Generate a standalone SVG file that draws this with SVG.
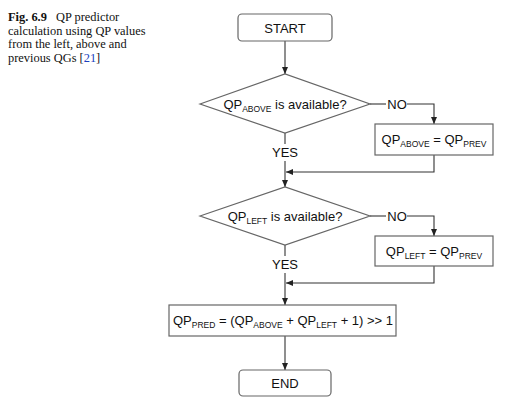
<svg xmlns="http://www.w3.org/2000/svg" width="505" height="401" viewBox="0 0 505 401">
<defs>
<marker id="ah" markerWidth="8" markerHeight="8" refX="7" refY="4" orient="auto" markerUnits="userSpaceOnUse">
<path d="M0,1 L7,4 L0,7 Z" fill="#222"/>
</marker>
</defs>
<style>
.cap{font-family:"Liberation Serif",serif;font-size:12.4px;fill:#111}
.t{font-family:"Liberation Sans",Arial,sans-serif;font-size:13px;fill:#111}
.s{font-size:8.5px}
.box{fill:#fff;stroke:#666;stroke-width:1.2}
.ln{fill:none;stroke:#333;stroke-width:1.1}
</style>
<rect width="505" height="401" fill="#fff"/>
<g id="caption">
<text class="cap" x="8" y="21"><tspan font-weight="bold">Fig. 6.9</tspan><tspan x="56">QP predictor</tspan></text>
<text class="cap" x="8" y="34.5">calculation using QP values</text>
<text class="cap" x="8" y="48">from the left, above and</text>
<text class="cap" x="8" y="61.5">previous QGs [<tspan fill="#1a3fbf">21</tspan>]</text>
</g>
<g id="connectors">
<line class="ln" x1="285" y1="41" x2="285" y2="74" marker-end="url(#ah)"/>
<line class="ln" x1="370" y1="104" x2="386" y2="104"/>
<polyline class="ln" points="407,104 434,104 434,124" marker-end="url(#ah)"/>
<line class="ln" x1="285" y1="133" x2="285" y2="144"/>
<line class="ln" x1="285" y1="161" x2="285" y2="187" marker-end="url(#ah)"/>
<polyline class="ln" points="434,155 434,172 286,172" marker-end="url(#ah)"/>
<line class="ln" x1="370" y1="216" x2="386" y2="216"/>
<polyline class="ln" points="407,216 434,216 434,236" marker-end="url(#ah)"/>
<line class="ln" x1="285" y1="245" x2="285" y2="256"/>
<line class="ln" x1="285" y1="273" x2="285" y2="305" marker-end="url(#ah)"/>
<polyline class="ln" points="434,266 434,283 286,283" marker-end="url(#ah)"/>
<line class="ln" x1="285" y1="336" x2="285" y2="370" marker-end="url(#ah)"/>
<text class="t" x="397" y="108.5" text-anchor="middle">NO</text>
<text class="t" x="285" y="157" text-anchor="middle">YES</text>
<text class="t" x="397" y="220.5" text-anchor="middle">NO</text>
<text class="t" x="285" y="269" text-anchor="middle">YES</text>
</g>
<g id="start">
<rect class="box" x="238" y="14" width="94" height="27" rx="4"/>
<text class="t" x="285" y="32.5" text-anchor="middle" font-size="14">START</text>
</g>
<g id="dec1">
<polygon class="box" points="200,104 285,74 370,104 285,133"/>
<text class="t" x="285" y="108.5" text-anchor="middle">QP<tspan class="s" dy="3">ABOVE</tspan><tspan dy="-3"> is available?</tspan></text>
</g>
<g id="set1">
<rect class="box" x="375" y="124" width="118" height="31"/>
<text class="t" x="434" y="144" text-anchor="middle">QP<tspan class="s" dy="3">ABOVE</tspan><tspan dy="-3"> = QP</tspan><tspan class="s" dy="3">PREV</tspan></text>
</g>
<g id="dec2">
<polygon class="box" points="200,216 285,187 370,216 285,245"/>
<text class="t" x="285" y="220.5" text-anchor="middle">QP<tspan class="s" dy="3">LEFT</tspan><tspan dy="-3"> is available?</tspan></text>
</g>
<g id="set2">
<rect class="box" x="375" y="236" width="118" height="30"/>
<text class="t" x="434" y="255.5" text-anchor="middle">QP<tspan class="s" dy="3">LEFT</tspan><tspan dy="-3"> = QP</tspan><tspan class="s" dy="3">PREV</tspan></text>
</g>
<g id="pred">
<rect class="box" x="169" y="305" width="227" height="31"/>
<text class="t" x="283" y="325" text-anchor="middle">QP<tspan class="s" dy="3">PRED</tspan><tspan dy="-3"> = (QP</tspan><tspan class="s" dy="3">ABOVE</tspan><tspan dy="-3"> + QP</tspan><tspan class="s" dy="3">LEFT</tspan><tspan dy="-3"> + 1) &gt;&gt; 1</tspan></text>
</g>
<g id="end">
<rect class="box" x="239" y="370" width="92" height="26" rx="4"/>
<text class="t" x="285" y="388" text-anchor="middle">END</text>
</g>
</svg>
